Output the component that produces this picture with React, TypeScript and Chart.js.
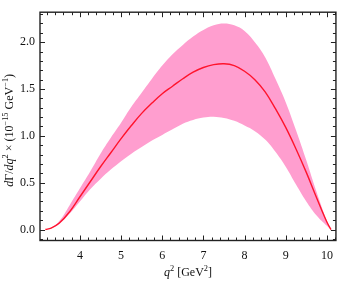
import React, { useEffect, useRef } from "react";
import { Chart, registerables } from "chart.js";

Chart.register(...registerables);

const q2 = [3.16, 3.3, 3.5, 3.75, 4.0, 4.25, 4.5, 4.75, 5.0, 5.25, 5.5, 5.75, 6.0, 6.25, 6.5, 6.75, 7.0, 7.25, 7.5, 7.75, 8.0, 8.25, 8.5, 8.75, 9.0, 9.25, 9.5, 9.75, 10.0, 10.1];
const central = [0, 0.015, 0.07, 0.19, 0.35, 0.51, 0.67, 0.82, 0.97, 1.11, 1.24, 1.35, 1.45, 1.53, 1.61, 1.68, 1.73, 1.76, 1.77, 1.75, 1.69, 1.6, 1.47, 1.29, 1.09, 0.86, 0.61, 0.34, 0.08, 0];
const upper = [0, 0.018, 0.09, 0.26, 0.44, 0.62, 0.81, 0.98, 1.14, 1.31, 1.46, 1.61, 1.75, 1.87, 1.97, 2.06, 2.13, 2.18, 2.2, 2.18, 2.12, 2.0, 1.84, 1.61, 1.36, 1.06, 0.74, 0.4, 0.09, 0];
const lower = [0, 0.013, 0.06, 0.17, 0.3, 0.43, 0.54, 0.64, 0.73, 0.81, 0.88, 0.95, 1.01, 1.07, 1.13, 1.17, 1.195, 1.205, 1.19, 1.16, 1.11, 1.05, 0.96, 0.83, 0.67, 0.48, 0.3, 0.15, 0.04, 0];

const xTicks = [4, 5, 6, 7, 8, 9, 10];
const yTicks = [0, 0.5, 1.0, 1.5, 2.0];
const xMinorStep = 0.2;
const yMinorStep = 0.1;

const SERIF = "'Liberation Serif', 'DejaVu Serif', serif";

type Seg = { t: string; i?: boolean; sup?: boolean };

function drawRich(ctx: CanvasRenderingContext2D, segs: Seg[], size: number) {
  const fontOf = (s: Seg) => `${s.i ? "italic " : ""}${s.sup ? size * 0.7 : size}px ${SERIF}`;
  let total = 0;
  for (const s of segs) {
    ctx.font = fontOf(s);
    total += ctx.measureText(s.t).width;
  }
  let x = -total / 2;
  ctx.textBaseline = "middle";
  ctx.textAlign = "left";
  for (const s of segs) {
    ctx.font = fontOf(s);
    ctx.fillText(s.t, x, s.sup ? -size * 0.38 : 0);
    x += ctx.measureText(s.t).width;
  }
}

const framePlugin = {
  id: "frame",
  afterDatasetsDraw(chart: any) {
    const { ctx, chartArea: a, scales } = chart;
    const xs = scales.x;
    const ys = scales.y;
    ctx.save();
    ctx.strokeStyle = "#222";
    ctx.lineWidth = 1;
    ctx.beginPath();
    const tick = (x1: number, y1: number, x2: number, y2: number) => {
      ctx.moveTo(x1, y1);
      ctx.lineTo(x2, y2);
    };
    for (let v = Math.ceil(xs.min / xMinorStep) * xMinorStep; v <= xs.max + 1e-9; v += xMinorStep) {
      const major = xTicks.some((t) => Math.abs(t - v) < 1e-6);
      const len = major ? 5 : 3;
      const px = Math.round(xs.getPixelForValue(v)) + 0.5;
      tick(px, a.bottom, px, a.bottom - len);
      tick(px, a.top, px, a.top + len);
    }
    for (let v = Math.ceil(ys.min / yMinorStep) * yMinorStep; v <= ys.max + 1e-9; v += yMinorStep) {
      const major = yTicks.some((t) => Math.abs(t - v) < 1e-6);
      const len = major ? 5 : 3;
      const py = Math.round(ys.getPixelForValue(v)) + 0.5;
      tick(a.left, py, a.left + len, py);
      tick(a.right, py, a.right - len, py);
    }
    ctx.stroke();
    ctx.lineWidth = 1.4;
    ctx.strokeRect(a.left, a.top, a.right - a.left, a.bottom - a.top);
    ctx.fillStyle = "#111";
    ctx.save();
    ctx.translate(10, (a.top + a.bottom) / 2 + 4);
    ctx.rotate(-Math.PI / 2);
    drawRich(
      ctx,
      [
        { t: "d", i: true },
        { t: "Γ" },
        { t: "/" },
        { t: "dq", i: true },
        { t: "2", sup: true },
        { t: " × (10" },
        { t: "−15", sup: true },
        { t: " GeV" },
        { t: "−1", sup: true },
        { t: ")" },
      ],
      12
    );
    ctx.restore();
    ctx.save();
    ctx.translate((a.left + a.right) / 2, 273);
    drawRich(
      ctx,
      [{ t: "q", i: true }, { t: "2", sup: true }, { t: " [GeV" }, { t: "2", sup: true }, { t: "]" }],
      12
    );
    ctx.restore();
    ctx.restore();
  },
};

export default function App() {
  const ref = useRef<HTMLCanvasElement>(null);
  useEffect(() => {
    document.body.style.margin = "0";
    const pts = (arr: number[]) => q2.map((x, i) => ({ x, y: arr[i] }));
    const chart = new Chart(ref.current!, {
      type: "line",
      data: {
        datasets: [
          {
            data: pts(central),
            borderWidth: 1.4,
            pointRadius: 0,
            fill: false,
            borderColor: "rgb(255,20,45)",
            tension: 0.4,
          },
          {
            data: pts(upper),
            borderWidth: 0,
            pointRadius: 0,
            fill: "+1",
            backgroundColor: "rgb(255,158,207)",
            borderColor: "rgba(0,0,0,0)",
            tension: 0.4,
          },
          {
            data: pts(lower),
            borderWidth: 0,
            pointRadius: 0,
            fill: false,
            borderColor: "rgba(0,0,0,0)",
            tension: 0.4,
          },
        ],
      },
      options: {
        animation: false,
        responsive: false,
        layout: { padding: { top: 3, right: 4, left: 0, bottom: 0 } },
        plugins: { legend: { display: false }, tooltip: { enabled: false } },
        scales: {
          x: {
            type: "linear",
            min: 3.03,
            max: 10.22,
            grid: { display: false, drawTicks: false },
            border: { display: false },
            afterBuildTicks: (s: any) => {
              s.ticks = xTicks.map((v) => ({ value: v }));
            },
            afterFit: (s: any) => {
              s.height = 43.5;
            },
            ticks: {
              padding: 8,
              color: "#111",
              font: { family: SERIF, size: 12 },
              maxRotation: 0,
              callback: (v: any) => String(v),
            },
          },
          y: {
            type: "linear",
            min: -0.117,
            max: 2.32,
            grid: { display: false, drawTicks: false },
            border: { display: false },
            afterBuildTicks: (s: any) => {
              s.ticks = yTicks.map((v) => ({ value: v }));
            },
            afterFit: (s: any) => {
              s.width = 40;
            },
            ticks: {
              padding: 5,
              color: "#111",
              font: { family: SERIF, size: 12 },
              callback: (v: any) => Number(v).toFixed(1),
            },
          },
        },
      },
      plugins: [framePlugin],
    });
    return () => chart.destroy();
  }, []);
  return <canvas ref={ref} width={341} height={284} style={{ display: "block" }} />;
}
